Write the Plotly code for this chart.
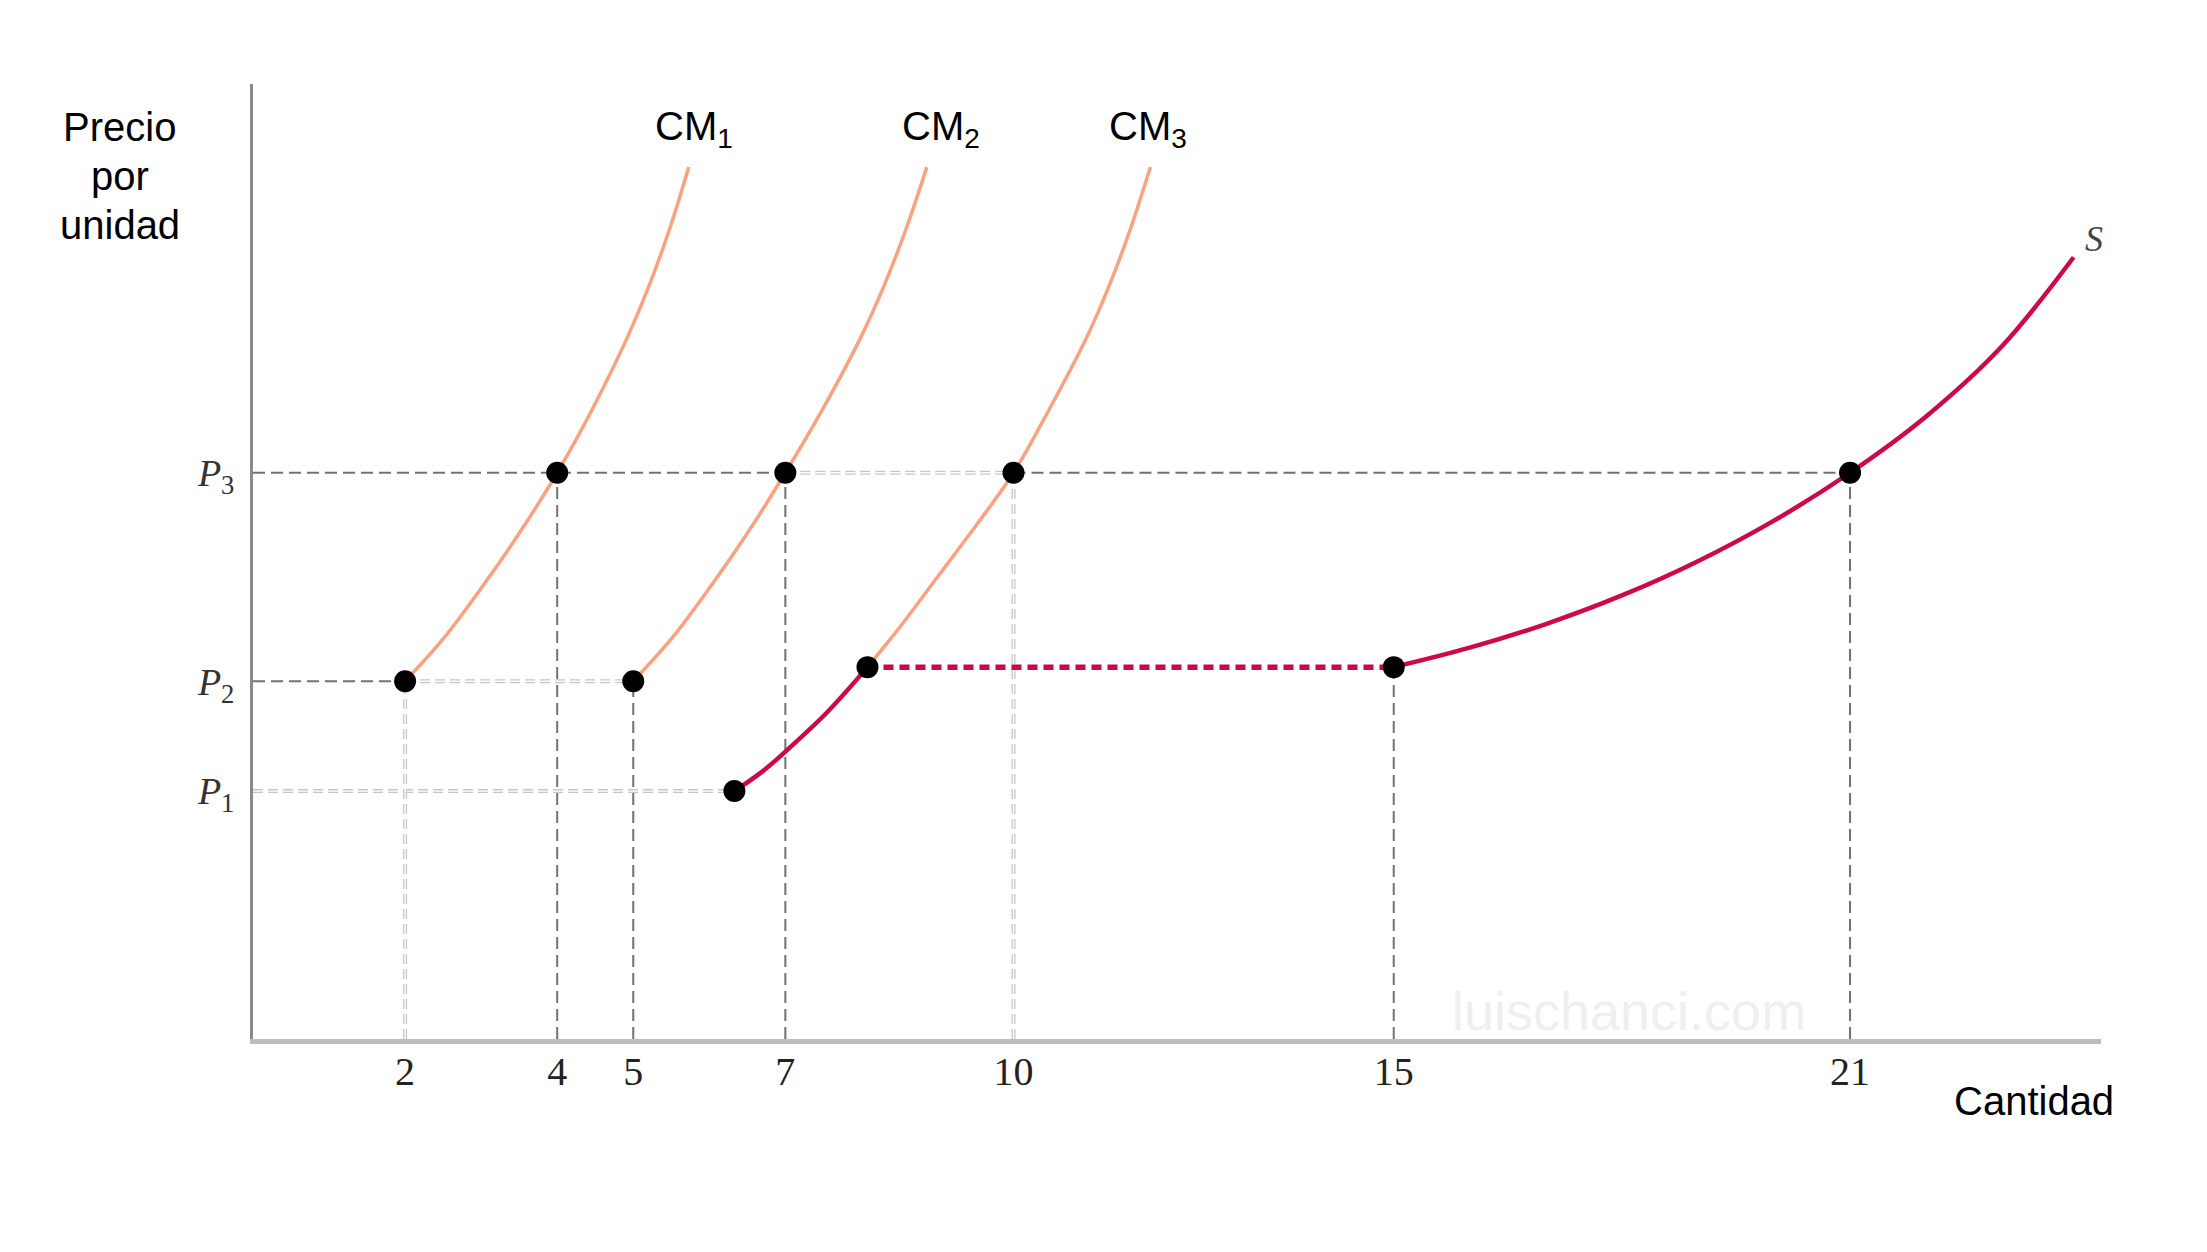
import plotly.graph_objects as go

# ---- data ----
price_ticks = [17.6, 25.4, 40.2]                      # P1, P2, P3
price_labels = ["<i>P</i><sub>1</sub>", "<i>P</i><sub>2</sub>", "<i>P</i><sub>3</sub>"]
qty_ticks = [2, 4, 5, 7, 10, 15, 21]
qty_labels = ["2", "4", "5", "7", "10", "15", "21"]
P1, P2, P3 = price_ticks
P_step = 26.4                                          # flat part of S

cm1_q = [2.0, 2.5, 3.0, 3.5, 4.0, 4.47, 4.93, 5.21, 5.49, 5.73]
cm1_p = [25.4, 28.4, 32.0, 35.9, 40.2, 44.8, 49.9, 53.5, 57.7, 61.9]
cm2_q = [5.0, 5.5, 6.0, 6.5, 7.0, 7.5, 8.0, 8.3, 8.6, 8.86]
cm2_p = [25.4, 28.4, 32.0, 35.9, 40.2, 44.8, 49.9, 53.5, 57.7, 61.9]
cm3_q = [8.08, 8.5, 9.0, 9.5, 10.0, 10.48, 10.97, 11.26, 11.55, 11.8]
cm3_p = [26.4, 29.2, 32.8, 36.4, 40.2, 44.8, 49.9, 53.5, 57.7, 61.9]

s_low_q = [6.33, 6.7, 7.04, 7.55, 8.08]
s_low_p = [17.6, 19.0, 20.6, 23.2, 26.4]
s_flat_q = [8.08, 15.0]
s_flat_p = [P_step, P_step]
s_high_q = [15.0, 16.0, 17.0, 18.0, 19.0, 20.0, 21.0, 22.0, 23.0, 23.94]
s_high_p = [26.4, 27.78, 29.46, 31.49, 33.92, 36.8, 40.2, 44.2, 49.2, 55.5]

dots_q = [2, 4, 5, 7, 10, 6.33, 8.08, 15, 21]
dots_p = [P2, P3, P2, P3, P3, P1, P_step, P_step, P3]

# guide segments: (x0, y0, x1, y1)
dark_guides = [
    (0, P2, 2, P2), (0, P3, 7, P3), (10, P3, 21, P3),
    (4, 0, 4, P3), (5, 0, 5, P2), (7, 0, 7, P3), (15, 0, 15, P_step), (21, 0, 21, P3),
]
light_guides = [
    (2, P2, 5, P2), (0, P1, 6.33, P1), (7, P3, 10, P3),
    (2, 0, 2, P2), (10, 0, 10, P3),
]

CM_COLOR = "#F9A27F"
S_COLOR = "#CC0A4B"
DARK = "#727272"
LIGHT = "#C6C6C6"

fig = go.Figure()

def seg(x0, y0, x1, y1, color, width, dash):
    fig.add_trace(go.Scatter(x=[x0, x1], y=[y0, y1], mode="lines",
                             line=dict(color=color, width=width, dash=dash),
                             hoverinfo="skip", showlegend=False))

for g in light_guides:
    seg(*g, LIGHT, 4, "10px,5px")
    seg(*g, "#FFFFFF", 1.4, "10px,5px")
for g in dark_guides:
    seg(*g, DARK, 2, "12px,6px")

for q, p in [(cm1_q, cm1_p), (cm2_q, cm2_p), (cm3_q, cm3_p)]:
    fig.add_trace(go.Scatter(x=q, y=p, mode="lines",
                             line=dict(color=CM_COLOR, width=3.5, shape="spline", smoothing=1.0),
                             hoverinfo="skip", showlegend=False))

fig.add_trace(go.Scatter(x=s_low_q, y=s_low_p, mode="lines",
                         line=dict(color=S_COLOR, width=4.5, shape="spline", smoothing=1.0),
                         hoverinfo="skip", showlegend=False))
fig.add_trace(go.Scatter(x=s_flat_q, y=s_flat_p, mode="lines", line=dict(color=S_COLOR, width=5.5, dash="10px,6px"),
                         hoverinfo="skip", showlegend=False))
fig.add_trace(go.Scatter(x=s_high_q, y=s_high_p, mode="lines",
                         line=dict(color=S_COLOR, width=4.5, shape="spline", smoothing=1.0),
                         hoverinfo="skip", showlegend=False))

fig.add_trace(go.Scatter(x=dots_q, y=dots_p, mode="markers", marker=dict(color="black", size=22),
                         hoverinfo="skip", showlegend=False))

sans = "Liberation Sans, Arial, sans-serif"
serif = "Liberation Serif, Times New Roman, serif"

ann = []
ann.append(dict(x=18.1, y=2.0, text="luischanci.com", showarrow=False,
                font=dict(family=sans, size=54, color="#EFEFEF"), xanchor="center", yanchor="middle"))
for txt, yp in [("Precio", 0.955), ("por", 0.904), ("unidad", 0.852)]:
    ann.append(dict(xref="paper", yref="paper", x=-0.072, y=yp, text=txt, showarrow=False,
                    font=dict(family=sans, size=40, color="black"), xanchor="center", yanchor="middle"))
for lab, xq in [("CM<sub>1</sub>", 5.80), ("CM<sub>2</sub>", 9.05), ("CM<sub>3</sub>", 11.77)]:
    ann.append(dict(x=xq, y=64.6, text=lab, showarrow=False,
                    font=dict(family=sans, size=40, color="black"), xanchor="center", yanchor="middle"))
ann.append(dict(x=24.21, y=56.8, text="<i>S</i>", showarrow=False,
                font=dict(family=serif, size=36, color="#444444"), xanchor="center", yanchor="middle"))
ann.append(dict(xref="paper", yref="paper", x=0.9635, y=-0.0653, text="Cantidad", showarrow=False,
                font=dict(family=sans, size=40, color="black"), xanchor="center", yanchor="middle"))

fig.update_layout(
    width=2199, height=1244,
    margin=dict(l=245, r=106, t=76, b=213, autoexpand=False),
    paper_bgcolor="white", plot_bgcolor="white",
    annotations=ann,
    xaxis=dict(range=[0, 24.3], showgrid=False, zeroline=False, showline=True,
               linecolor="#BDBDBD", linewidth=5, ticks="",
               tickvals=qty_ticks, ticktext=qty_labels, ticklabelstandoff=-7,
               tickfont=dict(family=serif, size=40, color="#222222")),
    yaxis=dict(range=[0, 67.8], showgrid=False, zeroline=False, showline=True,
               linecolor="#8A8A8A", linewidth=3, ticks="",
               tickvals=price_ticks, ticktext=price_labels, ticklabelstandoff=8,
               tickfont=dict(family=serif, size=38, color="#333333")),
)

fig.write_html("out.html")
